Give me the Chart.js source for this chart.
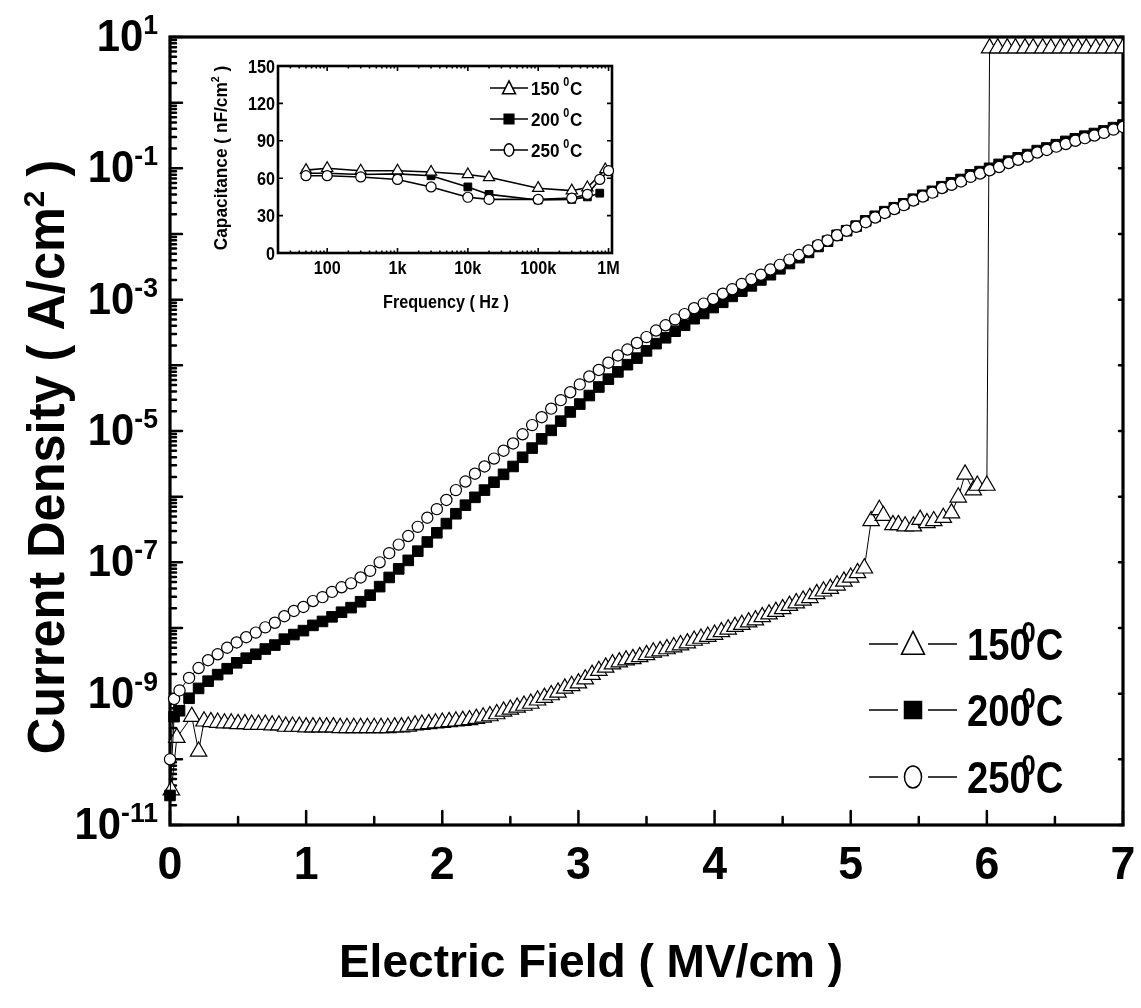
<!DOCTYPE html>
<html>
<head>
<meta charset="utf-8">
<script src="https://cdn.jsdelivr.net/npm/chart.js@4.4.1/dist/chart.umd.min.js"></script>
<style>
  html, body { margin: 0; padding: 0; background: #fff; }
  #wrap { position: relative; width: 1141px; height: 1008px; }
  #wrap canvas { position: absolute; left: 0; top: 0; }
</style>
</head>
<body>
<div id="wrap">
  <canvas id="jeChart" width="1141" height="1008"></canvas>
  <canvas id="cfChart" width="1141" height="1008"></canvas>
</div>
<script>
// ---- J-E sweeps: field in MV/cm, current density stored as log10(A/cm2) ----
// 250 C and 200 C were taken on the same field steps
const fieldSteps = [0.00, 0.03,
  0.07, 0.14, 0.21, 0.28, 0.35, 0.42, 0.49, 0.56, 0.63, 0.70,
  0.77, 0.84, 0.91, 0.98, 1.05, 1.12, 1.19, 1.26, 1.33, 1.40,
  1.47, 1.54, 1.61, 1.68, 1.75, 1.82, 1.89, 1.96, 2.03, 2.10,
  2.17, 2.24, 2.31, 2.38, 2.45, 2.52, 2.59, 2.66, 2.73, 2.80,
  2.87, 2.94, 3.01, 3.08, 3.15, 3.22, 3.29, 3.36, 3.43, 3.50,
  3.57, 3.64, 3.71, 3.78, 3.85, 3.92, 3.99, 4.06, 4.13, 4.20,
  4.27, 4.34, 4.41, 4.48, 4.55, 4.62, 4.69, 4.76, 4.83, 4.90,
  4.97, 5.04, 5.11, 5.18, 5.25, 5.32, 5.39, 5.46, 5.53, 5.60,
  5.67, 5.74, 5.81, 5.88, 5.95, 6.02, 6.09, 6.16, 6.23, 6.30,
  6.37, 6.44, 6.51, 6.58, 6.65, 6.72, 6.79, 6.86, 6.93, 7.00];

const logJ250 = [-10.00, -9.08,
  -8.95, -8.76, -8.61, -8.49, -8.40, -8.30, -8.22, -8.14, -8.07, -7.99,
  -7.92, -7.82, -7.74, -7.68, -7.59, -7.53, -7.45, -7.38, -7.32, -7.23,
  -7.13, -7.00, -6.86, -6.73, -6.60, -6.46, -6.32, -6.19, -6.05, -5.90,
  -5.77, -5.65, -5.54, -5.42, -5.30, -5.19, -5.05, -4.91, -4.79, -4.66,
  -4.53, -4.41, -4.29, -4.17, -4.07, -3.96, -3.85, -3.76, -3.66, -3.57,
  -3.47, -3.39, -3.30, -3.22, -3.13, -3.06, -2.99, -2.91, -2.84, -2.76,
  -2.69, -2.62, -2.54, -2.47, -2.39, -2.32, -2.25, -2.17, -2.10, -2.02,
  -1.95, -1.89, -1.82, -1.75, -1.68, -1.62, -1.56, -1.49, -1.43, -1.37,
  -1.30, -1.25, -1.20, -1.13, -1.08, -1.03, -0.98, -0.92, -0.87, -0.82,
  -0.76, -0.72, -0.67, -0.63, -0.58, -0.54, -0.50, -0.46, -0.41, -0.37];

const logJ200 = [-10.55, -9.35,
  -9.26, -9.07, -8.92, -8.81, -8.71, -8.62, -8.53, -8.46, -8.40, -8.32,
  -8.26, -8.17, -8.10, -8.04, -7.96, -7.90, -7.83, -7.76, -7.69, -7.60,
  -7.50, -7.37, -7.23, -7.10, -6.97, -6.83, -6.69, -6.55, -6.41, -6.26,
  -6.13, -6.01, -5.90, -5.78, -5.66, -5.54, -5.40, -5.26, -5.12, -4.99,
  -4.85, -4.71, -4.59, -4.46, -4.33, -4.21, -4.10, -3.99, -3.89, -3.78,
  -3.67, -3.58, -3.48, -3.39, -3.29, -3.21, -3.12, -3.04, -2.95, -2.87,
  -2.79, -2.70, -2.62, -2.53, -2.45, -2.36, -2.28, -2.19, -2.11, -2.02,
  -1.95, -1.88, -1.80, -1.73, -1.66, -1.60, -1.54, -1.47, -1.41, -1.35,
  -1.28, -1.22, -1.17, -1.10, -1.05, -1.00, -0.94, -0.89, -0.84, -0.79,
  -0.73, -0.69, -0.64, -0.59, -0.55, -0.51, -0.47, -0.43, -0.38, -0.34];

// 150 C: breakdown near 6 MV/cm, then the compliance limit
const field150 = [0.01, 0.05, 0.16, 0.21,
  0.25, 0.30, 0.35, 0.40, 0.45, 0.50, 0.55, 0.60, 0.65, 0.70,
  0.75, 0.80, 0.85, 0.90, 0.95, 1.00, 1.05, 1.10, 1.15, 1.20,
  1.25, 1.30, 1.35, 1.40, 1.45, 1.50, 1.55, 1.60, 1.65, 1.70,
  1.75, 1.80, 1.85, 1.90, 1.95, 2.00, 2.05, 2.10, 2.15, 2.20,
  2.25, 2.30, 2.35, 2.40, 2.45, 2.50, 2.55, 2.60, 2.65, 2.70,
  2.75, 2.80, 2.85, 2.90, 2.95, 3.00, 3.05, 3.10, 3.15, 3.20,
  3.25, 3.30, 3.35, 3.40, 3.45, 3.50, 3.55, 3.60, 3.65, 3.70,
  3.75, 3.80, 3.85, 3.90, 3.95, 4.00, 4.05, 4.10, 4.15, 4.20,
  4.25, 4.30, 4.35, 4.40, 4.45, 4.50, 4.55, 4.60, 4.65, 4.70,
  4.75, 4.80, 4.85, 4.90, 4.95, 5.00, 5.05, 5.10,
  5.15, 5.21, 5.24, 5.31, 5.35, 5.40, 5.46, 5.51, 5.56, 5.61,
  5.68, 5.74, 5.79, 5.84, 5.90, 5.93, 6.00,
  6.02, 6.08, 6.15, 6.21, 6.28, 6.34, 6.41, 6.47, 6.54, 6.60,
  6.67, 6.73, 6.80, 6.86, 6.93, 7.00];

const logJ150 = [-10.47, -9.67, -9.35, -9.88,
  -9.42, -9.43, -9.44, -9.45, -9.45, -9.46, -9.46, -9.47, -9.47, -9.47,
  -9.48, -9.48, -9.50, -9.50, -9.50, -9.51, -9.51, -9.51, -9.51, -9.51,
  -9.52, -9.52, -9.52, -9.52, -9.52, -9.52, -9.52, -9.52, -9.51, -9.51,
  -9.50, -9.48, -9.47, -9.46, -9.45, -9.44, -9.43, -9.42, -9.41, -9.40,
  -9.38, -9.36, -9.34, -9.31, -9.27, -9.24, -9.21, -9.18, -9.15, -9.10,
  -9.06, -9.02, -8.98, -8.92, -8.88, -8.84, -8.78, -8.71, -8.65, -8.60,
  -8.55, -8.52, -8.49, -8.47, -8.44, -8.41, -8.37, -8.35, -8.32, -8.29,
  -8.26, -8.23, -8.19, -8.16, -8.13, -8.10, -8.06, -8.02, -7.98, -7.95,
  -7.91, -7.88, -7.83, -7.79, -7.75, -7.71, -7.66, -7.62, -7.58, -7.54,
  -7.48, -7.44, -7.40, -7.35, -7.29, -7.23, -7.16, -7.09,
  -6.37, -6.20, -6.29, -6.43, -6.43, -6.45, -6.45, -6.35, -6.40, -6.37,
  -6.32, -6.25, -6.01, -5.66, -5.90, -5.83, -5.83,
  0.83, 0.83, 0.83, 0.83, 0.83, 0.83, 0.83, 0.83, 0.83, 0.83,
  0.83, 0.83, 0.83, 0.83, 0.83, 0.83];

const fieldTicks = [0, 1, 2, 3, 4, 5, 6, 7];
const decadeLabels = [1, -1, -3, -5, -7, -9, -11];
const tempNames = ['150', '200', '250'];

// ---- C-f inset: frequency in Hz, capacitance in nF/cm2 ----
const freq150 = [50, 100, 300, 1e3, 3e3, 1e4, 2e4, 1e5, 3e5, 5e5, 9e5];
const cap150 = [66.5, 68, 66, 66, 65, 63, 60.7, 52, 50, 52.5, 67];
const freq200 = [50, 100, 300, 1e3, 3e3, 1e4, 2e4, 1e5, 3e5, 5e5, 7.5e5];
const cap200 = [64, 64, 63, 63.5, 62, 53, 47, 42.5, 43, 45, 48];
const freq250 = [50, 100, 300, 1e3, 3e3, 1e4, 2e4, 1e5, 3e5, 5e5, 7.5e5, 1e6];
const cap250 = [62, 62, 61, 59, 53, 44.7, 43, 43, 44, 47, 59, 66];

const freqTicks = [100, 1e3, 1e4, 1e5, 1e6];
const freqLabels = ['100', '1k', '10k', '100k', '1M'];
const capTicks = [0, 30, 60, 90, 120, 150];

const FACE = '"Liberation Sans", Arial, sans-serif';

function toLogPoints(xs, logs) {
    return xs.map(function (x, i) { return { x: x, y: Math.pow(10, logs[i]) }; });
}
function toPoints(xs, ys) {
    return xs.map(function (x, i) { return { x: x, y: ys[i] }; });
}

// text made of runs (for the superscripts), squeezed horizontally by sx
function runsWidth(ctx, runs, sx) {
    let w = 0;
    runs.forEach(function (r) {
        ctx.font = 'bold ' + r.size + 'px ' + FACE;
        w += (ctx.measureText(r.text).width + (r.dx || 0)) * sx;
    });
    return w;
}
function drawRuns(ctx, runs, x, y, align, sx) {
    const w = runsWidth(ctx, runs, sx);
    let cx = align === 'center' ? x - w / 2 : (align === 'right' ? x - w : x);
    ctx.save();
    ctx.fillStyle = '#000';
    ctx.textAlign = 'left';
    ctx.textBaseline = 'alphabetic';
    runs.forEach(function (r) {
        ctx.font = 'bold ' + r.size + 'px ' + FACE;
        cx += (r.dx || 0) * sx;
        ctx.save();
        ctx.translate(cx, y + (r.dy || 0));
        ctx.scale(sx, 1);
        ctx.fillText(r.text, 0, 0);
        ctx.restore();
        cx += ctx.measureText(r.text).width * sx;
    });
    ctx.restore();
}

function drawMarker(ctx, style, x, y, size) {
    ctx.save();
    ctx.lineWidth = 1.5;
    ctx.strokeStyle = '#000';
    ctx.beginPath();
    if (style === 'triangle') {
        ctx.moveTo(x, y - size * 0.55);
        ctx.lineTo(x + size / 2, y + size * 0.45);
        ctx.lineTo(x - size / 2, y + size * 0.45);
        ctx.closePath();
        ctx.fillStyle = '#fff';
    } else if (style === 'rect') {
        ctx.rect(x - size * 0.37, y - size * 0.37, size * 0.74, size * 0.74);
        ctx.fillStyle = '#000';
    } else {
        ctx.ellipse(x, y, size * 0.37, size * 0.48, 0, 0, Math.PI * 2);
        ctx.fillStyle = '#fff';
    }
    ctx.fill();
    ctx.stroke();
    ctx.restore();
}

const markerStyles = ['triangle', 'rect', 'circle'];

// frame, inward ticks, labels and legend of the J-E plot
const jeDecor = {
    id: 'jeDecor',
    beforeDatasetsDraw(chart) {
        const ctx = chart.ctx;
        const a = chart.chartArea;
        const x = chart.scales.x;
        const y = chart.scales.y;
        ctx.save();
        ctx.strokeStyle = '#000';
        ctx.lineCap = 'round';
        ctx.lineWidth = 2.5;
        ctx.beginPath();
        // bottom axis: integers long, halves short
        for (let v = 0; v <= 7; v += 0.5) {
            const px = x.getPixelForValue(v);
            const len = Number.isInteger(v) ? 14 : 8;
            ctx.moveTo(px, a.bottom);
            ctx.lineTo(px, a.bottom - len);
        }
        // left axis: decades and their 2..9 subdivisions
        for (let e = -11; e <= 1; e++) {
            const py = y.getPixelForValue(Math.pow(10, e));
            ctx.moveTo(a.left, py);
            ctx.lineTo(a.left + 12, py);
            ctx.moveTo(a.right, py);
            ctx.lineTo(a.right - 4, py);
            if (e < 1) {
                for (let m = 2; m <= 9; m++) {
                    const pm = y.getPixelForValue(m * Math.pow(10, e));
                    ctx.moveTo(a.left, pm);
                    ctx.lineTo(a.left + 6, pm);
                }
            }
        }
        ctx.stroke();
        ctx.lineWidth = 3.2;
        ctx.lineCap = 'butt';
        ctx.strokeRect(a.left, a.top, a.right - a.left, a.bottom - a.top);
        ctx.restore();
    },
    afterDraw(chart) {
        const ctx = chart.ctx;
        const x = chart.scales.x;
        const y = chart.scales.y;

        fieldTicks.forEach(function (v) {
            drawRuns(ctx, [{ text: String(v), size: 47 }], x.getPixelForValue(v), 879, 'center', 0.95);
        });
        decadeLabels.forEach(function (e) {
            const py = y.getPixelForValue(Math.pow(10, e));
            drawRuns(ctx, [
                { text: '10', size: 44 },
                { text: (e < 0 ? '-' : '') + Math.abs(e), size: 28, dy: -17 }
            ], 158, py + 14, 'right', 0.95);
        });

        drawRuns(ctx, [{ text: 'Electric Field ( MV/cm )', size: 47 }], 591, 977, 'center', 0.98);

        ctx.save();
        ctx.translate(64, 457);
        ctx.rotate(-Math.PI / 2);
        drawRuns(ctx, [
            { text: 'Current Density ( A/cm', size: 51 },
            { text: '2', size: 30, dy: -20 },
            { text: ' )', size: 51 }
        ], 0, 0, 'center', 0.99);
        ctx.restore();

        // legend
        const rows = [644, 710, 777];
        tempNames.forEach(function (name, i) {
            const ly = rows[i];
            ctx.save();
            ctx.strokeStyle = '#000';
            ctx.lineWidth = 1.3;
            ctx.beginPath();
            ctx.moveTo(869, ly); ctx.lineTo(898, ly);
            ctx.moveTo(928, ly); ctx.lineTo(957, ly);
            ctx.stroke();
            ctx.restore();
            drawMarker(ctx, markerStyles[i], 913, ly, 23);
            drawRuns(ctx, [
                { text: name, size: 45 },
                { text: '0', size: 30, dx: -11, dy: -18 },
                { text: 'C', size: 45 }
            ], 967, ly + 16, 'left', 0.85);
        });
    }
};

const jeChart = new Chart(document.getElementById('jeChart'), {
    type: 'scatter',
    data: {
        datasets: [{
            label: '250',
            data: toLogPoints(fieldSteps, logJ250),
            showLine: true,
            borderColor: '#000',
            borderWidth: 1,
            pointStyle: 'circle',
            pointRadius: 5.6,
            pointBackgroundColor: '#fff',
            pointBorderColor: '#000',
            pointBorderWidth: 1.2,
            order: 0,
            clip: { left: 8, top: 0, right: 0, bottom: 8 }
        }, {
            label: '200',
            data: toLogPoints(fieldSteps, logJ200),
            showLine: true,
            borderColor: '#000',
            borderWidth: 1,
            pointStyle: 'rect',
            pointRadius: 7.5,
            pointBackgroundColor: '#000',
            pointBorderColor: '#000',
            pointBorderWidth: 1,
            order: 1,
            clip: { left: 8, top: 0, right: 0, bottom: 8 }
        }, {
            label: '150',
            data: toLogPoints(field150, logJ150),
            showLine: true,
            borderColor: '#000',
            borderWidth: 1,
            pointStyle: 'triangle',
            pointRadius: 9.5,
            pointBackgroundColor: '#fff',
            pointBorderColor: '#000',
            pointBorderWidth: 1.2,
            order: 2,
            clip: { left: 8, top: 0, right: 0, bottom: 8 }
        }]
    },
    options: {
        responsive: false,
        animation: false,
        events: [],
        layout: { padding: { left: 170, top: 37, right: 18, bottom: 183 } },
        plugins: { legend: { display: false }, tooltip: { enabled: false } },
        scales: {
            x: { type: 'linear', min: 0, max: 7, display: false },
            y: { type: 'logarithmic', min: 1e-11, max: 10, display: false }
        }
    },
    plugins: [jeDecor]
});

// frame, ticks, labels and legend of the C-f inset
const cfDecor = {
    id: 'cfDecor',
    beforeDatasetsDraw(chart) {
        const ctx = chart.ctx;
        const a = chart.chartArea;
        const x = chart.scales.x;
        const y = chart.scales.y;
        ctx.save();
        ctx.strokeStyle = '#000';
        ctx.lineWidth = 1.6;
        ctx.beginPath();
        capTicks.forEach(function (v) {
            const py = y.getPixelForValue(v);
            ctx.moveTo(a.left, py); ctx.lineTo(a.left + 5, py);
            ctx.moveTo(a.right, py); ctx.lineTo(a.right - 5, py);
        });
        for (let e = 1; e <= 6; e++) {
            for (let m = 1; m <= 9; m++) {
                const v = m * Math.pow(10, e);
                if (v < x.min || v > x.max) continue;
                const px = x.getPixelForValue(v);
                const len = m === 1 ? 5 : 2.5;
                ctx.moveTo(px, a.bottom); ctx.lineTo(px, a.bottom - len);
                ctx.moveTo(px, a.top); ctx.lineTo(px, a.top + len);
            }
        }
        ctx.stroke();
        ctx.lineWidth = 2.6;
        ctx.strokeRect(a.left, a.top, a.right - a.left, a.bottom - a.top);
        ctx.restore();
    },
    afterDraw(chart) {
        const ctx = chart.ctx;
        const x = chart.scales.x;
        const y = chart.scales.y;
        capTicks.forEach(function (v) {
            drawRuns(ctx, [{ text: String(v), size: 18 }], 275, y.getPixelForValue(v) + 6.5, 'right', 0.9);
        });
        freqTicks.forEach(function (v, i) {
            drawRuns(ctx, [{ text: freqLabels[i], size: 18 }], x.getPixelForValue(v), 274, 'center', 0.9);
        });
        drawRuns(ctx, [{ text: 'Frequency ( Hz )', size: 18 }], 446, 308, 'center', 0.9);

        ctx.save();
        ctx.translate(227, 158);
        ctx.rotate(-Math.PI / 2);
        drawRuns(ctx, [
            { text: 'Capacitance ( nF/cm', size: 18 },
            { text: '2', size: 11, dy: -8 },
            { text: ' )', size: 18 }
        ], 0, 0, 'center', 0.96);
        ctx.restore();

        const rows = [88, 119, 150];
        tempNames.forEach(function (name, i) {
            const ly = rows[i];
            ctx.save();
            ctx.strokeStyle = '#000';
            ctx.lineWidth = 1.6;
            ctx.beginPath();
            ctx.moveTo(490, ly); ctx.lineTo(528, ly);
            ctx.stroke();
            ctx.restore();
            drawMarker(ctx, markerStyles[i], 509, ly, 13);
            drawRuns(ctx, [
                { text: name, size: 19 },
                { text: '0', size: 12, dx: 4, dy: -9 },
                { text: 'C', size: 19, dx: 1 }
            ], 531, ly + 7, 'left', 0.9);
        });
    }
};

const cfChart = new Chart(document.getElementById('cfChart'), {
    type: 'scatter',
    data: {
        datasets: [{
            label: '250',
            data: toPoints(freq250, cap250),
            showLine: true,
            borderColor: '#000',
            borderWidth: 1.6,
            pointStyle: 'circle',
            pointRadius: 5,
            pointBackgroundColor: '#fff',
            pointBorderColor: '#000',
            pointBorderWidth: 1.2,
            order: 0,
            clip: false
        }, {
            label: '150',
            data: toPoints(freq150, cap150),
            showLine: true,
            borderColor: '#000',
            borderWidth: 1.6,
            pointStyle: 'triangle',
            pointRadius: 6.5,
            pointBackgroundColor: '#fff',
            pointBorderColor: '#000',
            pointBorderWidth: 1.2,
            order: 1,
            clip: false
        }, {
            label: '200',
            data: toPoints(freq200, cap200),
            showLine: true,
            borderColor: '#000',
            borderWidth: 1.6,
            pointStyle: 'rect',
            pointRadius: 5.5,
            pointBackgroundColor: '#000',
            pointBorderColor: '#000',
            pointBorderWidth: 1,
            order: 2,
            clip: false
        }]
    },
    options: {
        responsive: false,
        animation: false,
        events: [],
        layout: { padding: { left: 278, top: 66, right: 529, bottom: 755 } },
        plugins: { legend: { display: false }, tooltip: { enabled: false } },
        scales: {
            x: { type: 'logarithmic', min: 20, max: 1.12e6, display: false },
            y: { type: 'linear', min: 0, max: 150, display: false }
        }
    },
    plugins: [cfDecor]
});
</script>
</body>
</html>
